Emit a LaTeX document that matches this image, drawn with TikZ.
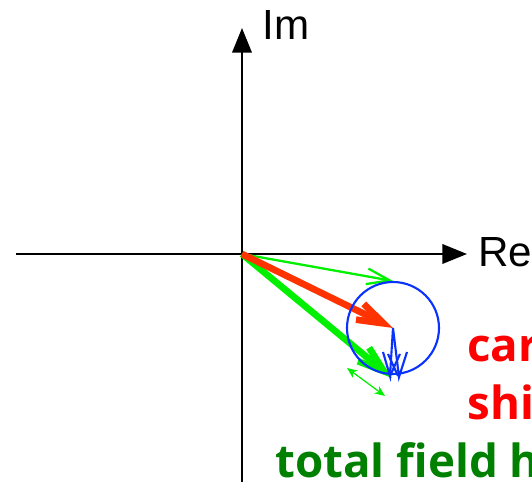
\documentclass[tikz,border=0pt]{standalone}
\usepackage{fontspec}
\usetikzlibrary{arrows.meta}
\newfontfamily\axisfont{Liberation Sans}
\newfontfamily\notefont{Open Sans}
\definecolor{phasorred}{RGB}{255,51,0}
\definecolor{phasorgreen}{RGB}{0,240,0}
\definecolor{noiseblue}{RGB}{10,50,255}
\definecolor{notered}{RGB}{255,0,0}
\definecolor{notegreen}{RGB}{0,128,0}
\tikzset{
  axis/.style={line width=1.4pt, -{Triangle[length=14pt,width=11pt]}},
  axislabel/.style={anchor=base west, inner sep=0pt,
                    font=\axisfont\fontsize{24}{28}\selectfont},
  thinphasor/.style={line width=1.3pt, draw=phasorgreen,
                     -{Straight Barb[length=13pt,width=9pt]}},
  thickphasor/.style={line width=3.8pt, draw=#1,
                      -{Straight Barb[length=15pt,width=10pt]}},
  thickphasor/.default=phasorred,
  noise/.style={line width=1.2pt, draw=noiseblue},
  jitter/.style={line width=0.7pt, draw=phasorgreen,
                 {Stealth[length=6pt,width=5pt]}-{Stealth[length=6pt,width=5pt]}},
  note/.style={anchor=base west, inner sep=0pt, text=#1,
               font=\notefont\bfseries\fontsize{26}{31}\selectfont},
}

\begin{document}
\begin{tikzpicture}[x=0.02cm, y=-0.02cm]
  \useasboundingbox (0,0) rectangle (532,482);

  % Axes
  \coordinate (O) at (242,254);
  \coordinate (reEnd) at (16,254);
  \coordinate (reTip) at (467,254);
  \coordinate (imEnd) at (242,482);
  \coordinate (imTip) at (242,28);
  \draw[axis] (reEnd) -- (reTip);
  \draw[axis] (imEnd) -- (imTip);
  \node[axislabel] (im) at (262,40) {Im};
  \node[axislabel] (re) at (478,267) {Re};

  % Phasors
  \coordinate (carrier) at (393,328);
  \coordinate (shifted) at (393,281);
  \coordinate (total) at (392,378);
  \draw[thinphasor] (O) -- (shifted);
  \draw[thickphasor=phasorgreen] (O) -- (total);
  \draw[thickphasor] (O) -- (carrier);

  % Noise circle and spikes
  \draw[noise] (carrier) circle (46);
  \draw[noise] (383,352) -- (390,376) -- (carrier) -- (399,377) -- (407,352);
  \draw[noise] (388,354) -- (398,376);
  \draw[noise] (400,354) -- (390,376);

  % Jitter
  \coordinate (jitA) at (347,368);
  \coordinate (jitB) at (385,396);
  \draw[jitter] (jitA) -- (jitB);

  % Notes
  \node[note=notered] (carrierNote) at (467,362) {carrier};
  \node[note=notered] (shiftNote) at (467,420) {shift};
  \node[note=notegreen] (totalNote) at (275,478) {total field h};

\end{tikzpicture}
\end{document}
